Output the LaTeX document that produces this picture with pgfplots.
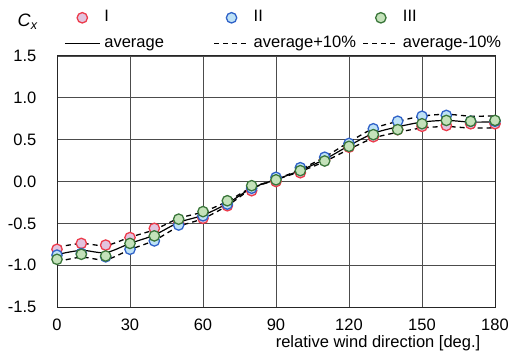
\documentclass[border=0pt]{standalone}
\usepackage{fontspec}
\setmainfont{Liberation Sans}
\usepackage{pgfplots}
\pgfplotsset{compat=1.18}
\definecolor{rEdge}{RGB}{236,60,76}
\definecolor{rFill}{RGB}{226,196,222}
\definecolor{bEdge}{RGB}{48,98,200}
\definecolor{bFill}{RGB}{190,226,246}
\definecolor{gEdge}{RGB}{58,118,58}
\definecolor{gFill}{RGB}{196,226,186}
\pgfplotsset{
  mleg/.style={legend image code/.code={\draw[mark repeat=2,mark phase=2,##1] plot coordinates {(0bp,0bp)(17.5bp,0bp)(35bp,0bp)};}},
  lleg/.style={legend image code/.code={\draw[##1] (0bp,0bp) -- (35bp,0bp);}},
}
\begin{document}
\fontsize{16.5bp}{19bp}\selectfont
\begin{tikzpicture}
\useasboundingbox (0,0) rectangle (508bp,355bp);
\begin{axis}[
  at={(57bp,48bp)}, anchor=south west,
  scale only axis, width=438bp, height=251bp,
  xmin=0, xmax=180, ymin=-1.5, ymax=1.5,
  xtick={0,30,...,180}, ytick={-1.5,-1,...,1.5},
  grid=major,
  major grid style={black!70, line width=0.9bp},
  axis line style={black!85, line width=1bp},
  major tick length=0pt,
  /pgf/number format/assume math mode=true,
  yticklabel style={/pgf/number format/fixed, /pgf/number format/fixed zerofill, /pgf/number format/precision=1, xshift=-15bp},
  xticklabel style={yshift=-6bp},
  legend columns=3,
  legend style={draw=none, fill=none, inner sep=0pt,
    at={(rel axis cs:0,1)}, anchor=south west, xshift=7bp, yshift=4bp,
    nodes={inner sep=0pt, text height=12bp, text depth=4bp, anchor=west},
    /tikz/every odd column/.append style={column sep=4bp},
    /tikz/every even column/.append style={column sep=0bp},
    /tikz/row sep=10bp},
  legend cell align=left,
]
% lines (average and +-10%)
\addplot[forget plot, black, line width=1.2bp, smooth, tension=0.5] coordinates {
(0,-0.873)(10,-0.823)(20,-0.850)(30,-0.740)(40,-0.640)(50,-0.490)(60,-0.403)(70,-0.263)(80,-0.080)(90,0.023)(100,0.133)(110,0.265)(120,0.428)(130,0.575)(140,0.653)(150,0.710)(160,0.730)(170,0.710)(180,0.713)};
\addplot[forget plot, black, line width=1.3bp, dash pattern=on 5bp off 4bp, smooth, tension=0.5] coordinates {
(0,-0.786)(10,-0.741)(20,-0.765)(30,-0.666)(40,-0.576)(50,-0.441)(60,-0.363)(70,-0.237)(80,-0.072)(90,0.025)(100,0.146)(110,0.292)(120,0.471)(130,0.633)(140,0.718)(150,0.781)(160,0.803)(170,0.781)(180,0.784)};
\addplot[forget plot, black, line width=1.3bp, dash pattern=on 5bp off 4bp, smooth, tension=0.5] coordinates {
(0,-0.960)(10,-0.905)(20,-0.935)(30,-0.814)(40,-0.704)(50,-0.539)(60,-0.443)(70,-0.289)(80,-0.088)(90,0.021)(100,0.120)(110,0.239)(120,0.385)(130,0.518)(140,0.588)(150,0.639)(160,0.657)(170,0.639)(180,0.642)};
% markers
\addplot[only marks, mark=*, mark size=5.2bp, draw=rEdge, fill=rFill, line width=1.3bp, mleg] coordinates {
(0,-0.81)(10,-0.74)(20,-0.76)(30,-0.67)(40,-0.56)(50,-0.50)(60,-0.44)(70,-0.29)(80,-0.11)(90,0.00)(100,0.105)(110,0.26)(120,0.41)(130,0.535)(140,0.62)(150,0.66)(160,0.67)(170,0.69)(180,0.69)};
\addlegendentry{\makebox[109bp][l]{I}}
\addplot[only marks, mark=*, mark size=5.2bp, draw=bEdge, fill=bFill, line width=1.3bp, mleg] coordinates {
(0,-0.88)(10,-0.86)(20,-0.90)(30,-0.81)(40,-0.71)(50,-0.52)(60,-0.41)(70,-0.27)(80,-0.08)(90,0.05)(100,0.165)(110,0.29)(120,0.455)(130,0.63)(140,0.72)(150,0.78)(160,0.79)(170,0.72)(180,0.72)};
\addlegendentry{\makebox[109bp][l]{II}}
\addplot[only marks, mark=*, mark size=5.2bp, draw=gEdge, fill=gFill, line width=1.3bp, mleg] coordinates {
(0,-0.93)(10,-0.87)(20,-0.89)(30,-0.74)(40,-0.65)(50,-0.45)(60,-0.36)(70,-0.23)(80,-0.05)(90,0.02)(100,0.13)(110,0.245)(120,0.42)(130,0.56)(140,0.62)(150,0.69)(160,0.73)(170,0.72)(180,0.73)};
\addlegendentry{\makebox[109bp][l]{III}}
\addlegendimage{black, line width=1.2bp, lleg}
\addlegendentry{\makebox[109bp][l]{average}}
\addlegendimage{black, line width=1.3bp, dash pattern=on 5bp off 4bp, lleg}
\addlegendentry{\makebox[109bp][l]{average+10\%}}
\addlegendimage{black, line width=1.3bp, dash pattern=on 5bp off 4bp, lleg}
\addlegendentry{\makebox[98bp][l]{average-10\%}}
\end{axis}
\node[anchor=base west, font=\fontsize{18bp}{20bp}\selectfont] at (12bp,328bp) {\textit{C}\textsubscript{\textit{x}}};
\node[anchor=base east] at (486bp,8bp) {relative wind direction [deg.]};
\end{tikzpicture}
\end{document}
